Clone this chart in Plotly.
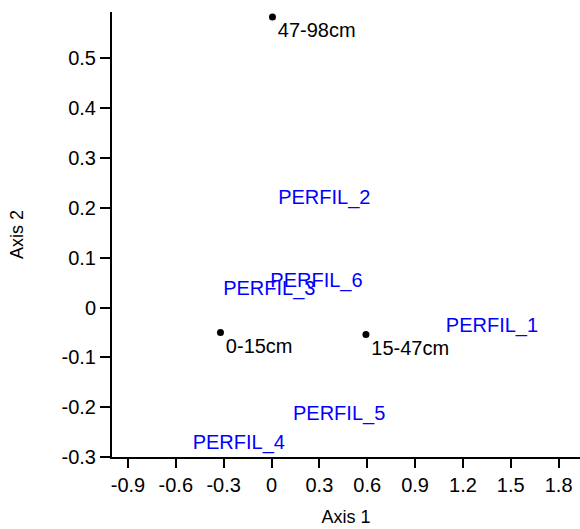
import plotly.graph_objects as go

# Sample points (black dots)
pt_labels = ["47-98cm", "0-15cm", "15-47cm"]
pt_x = [0.006, -0.32, 0.592]
pt_y = [0.583, -0.050, -0.054]

# Profile labels (blue text)
pf_labels = ["PERFIL_1", "PERFIL_2", "PERFIL_3", "PERFIL_4", "PERFIL_5", "PERFIL_6"]
pf_x = [1.382, 0.331, -0.014, -0.205, 0.424, 0.282]
pf_y = [-0.039, 0.217, 0.036, -0.273, -0.215, 0.052]

x_ticks = [-0.9, -0.6, -0.3, 0, 0.3, 0.6, 0.9, 1.2, 1.5, 1.8]
x_ticktext = ["-0.9", "-0.6", "-0.3", "0", "0.3", "0.6", "0.9", "1.2", "1.5", "1.8"]
y_ticks = [-0.3, -0.2, -0.1, 0, 0.1, 0.2, 0.3, 0.4, 0.5]
y_ticktext = ["-0.3", "-0.2", "-0.1", "0", "0.1", "0.2", "0.3", "0.4", "0.5"]

FONT = "Liberation Sans, Arial, sans-serif"

fig = go.Figure()
fig.add_trace(go.Scatter(
    x=pf_x, y=pf_y, mode="text", text=pf_labels,
    textposition="middle center",
    textfont=dict(family=FONT, size=20, color="#0000ff"),
    hoverinfo="skip", showlegend=False, cliponaxis=False,
))
fig.add_trace(go.Scatter(
    x=pt_x, y=pt_y, mode="markers+text", text=pt_labels,
    textposition="bottom right",
    marker=dict(color="black", size=7),
    textfont=dict(family=FONT, size=20, color="black"),
    showlegend=False, cliponaxis=False,
))

fig.update_layout(
    width=580, height=529,
    margin=dict(l=112, r=0, t=12, b=72),
    paper_bgcolor="white", plot_bgcolor="white",
    font=dict(family=FONT, size=20, color="black"),
    xaxis=dict(
        range=[-1.0, 1.934], tickvals=x_ticks, ticktext=x_ticktext,
        showgrid=False, zeroline=False, showline=True, linecolor="black", linewidth=2,
        ticks="outside", ticklen=9, tickwidth=2, tickcolor="black",
        tickfont=dict(size=20),
        title=dict(text="Axis 1", font=dict(size=18), standoff=15),
    ),
    yaxis=dict(
        range=[-0.3, 0.593], tickvals=y_ticks, ticktext=y_ticktext,
        showgrid=False, zeroline=False, showline=True, linecolor="black", linewidth=2,
        ticks="outside", ticklen=10, tickwidth=2, tickcolor="black",
        tickfont=dict(size=20),
        title=dict(text="Axis 2", font=dict(size=18), standoff=33),
    ),
)

fig.write_html("out.html")
